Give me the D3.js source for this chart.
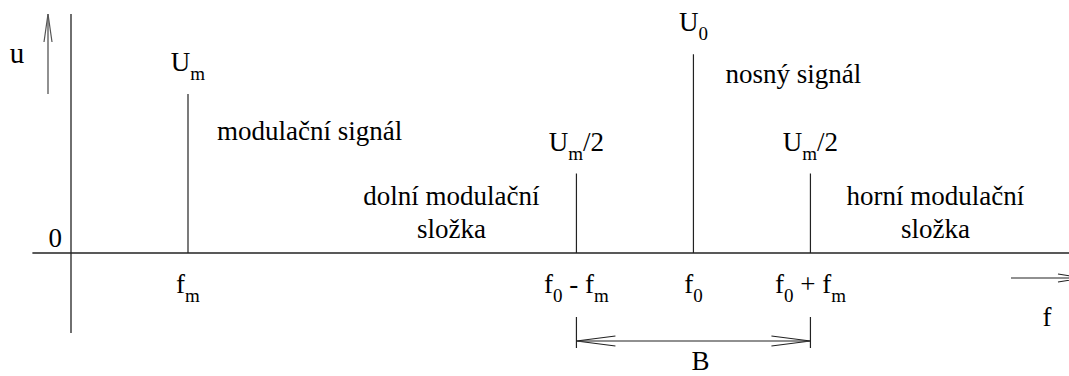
<!DOCTYPE html>
<html>
<head>
<meta charset="utf-8">
<script src="https://cdn.jsdelivr.net/npm/d3@7"></script>
<style>
  html, body { margin: 0; padding: 0; background: #fff; }
  .chart text { font-family: "Liberation Serif", serif; fill: #000; }
</style>
</head>
<body>
<svg class="chart"></svg>
<script>
// spectrum of an AM signal, frequencies in units of f_m
const fm = 1;
const f0 = 5.32;
const freqs = [fm, f0 - fm, f0, f0 + fm];
const amps = [1, 0.5, 1.25, 0.5];
const ampLabels = ["U_m", "U_m/2", "U_0", "U_m/2"];
const freqLabels = ["f_m", "f_0 - f_m", "f_0", "f_0 + f_m"];

const width = 1069;
const height = 376;
const fontSize = 27;
const subSize = 19;
const subShift = 9;

const svg = d3.select('.chart')
    .attr('width', width)
    .attr('height', height);

const x = d3.scaleLinear().domain([0, 8.53]).range([71, 1069]);
const y = d3.scaleLinear().domain([0, 1]).range([253, 94]);

const ink = '#222';

// writes "a_b" style strings, the char after _ becomes a subscript
function richText(sel, str) {
    const parts = str.split(/_(\w)/);
    let shift = 0;
    parts.forEach((p, i) => {
        if (p === '') return;
        const sub = i % 2 === 1;
        const target = sub ? subShift : 0;
        sel.append('tspan')
            .attr('font-size', sub ? subSize : fontSize)
            .attr('dy', target - shift)
            .text(p);
        shift = target;
    });
}

function arrowHead(g, tx, ty, dx, dy, len, half, color) {
    // dx,dy is the unit direction the arrow points
    const bx = tx - dx * len, by = ty - dy * len;
    const px = -dy * half, py = dx * half;
    g.append('path')
        .attr('d', `M${bx + px},${by + py}L${tx},${ty}L${bx - px},${by - py}`)
        .attr('fill', 'none')
        .attr('stroke', color)
        .attr('stroke-width', 1.2);
}

// axes
svg.append('line')
    .attr('x1', x(-0.33)).attr('x2', x.range()[1])
    .attr('y1', y(0)).attr('y2', y(0))
    .attr('stroke', ink).attr('stroke-width', 1.3);

svg.append('line')
    .attr('x1', x(0)).attr('x2', x(0))
    .attr('y1', 14).attr('y2', 333)
    .attr('stroke', ink).attr('stroke-width', 1.3);

svg.append('text')
    .attr('x', x(0) - 9)
    .attr('y', y(0) - 6)
    .attr('text-anchor', 'end')
    .attr('font-size', fontSize)
    .text('0');

// u arrow
svg.append('line')
    .attr('x1', 48).attr('x2', 48)
    .attr('y1', 94).attr('y2', 14)
    .attr('stroke', '#555').attr('stroke-width', 1.3);
arrowHead(svg, 48, 14, 0, -1, 28, 4, '#555');
svg.append('text')
    .attr('x', 17).attr('y', 63)
    .attr('text-anchor', 'middle')
    .attr('font-size', 29)
    .text('u');

// f arrow
svg.append('line')
    .attr('x1', 1011).attr('x2', 1083)
    .attr('y1', 278).attr('y2', 278)
    .attr('stroke', ink).attr('stroke-width', 1.2);
arrowHead(svg, 1083, 278, 1, 0, 25, 4, ink);
svg.append('text')
    .attr('x', 1047).attr('y', 326)
    .attr('text-anchor', 'middle')
    .attr('font-size', fontSize)
    .text('f');

// spectral lines
const comps = freqs.map((f, i) => ({ f, a: amps[i], label: ampLabels[i], tick: freqLabels[i] }));

const line = svg.selectAll('.comp')
    .data(comps)
    .enter().append('g')
    .attr('class', 'comp');

line.append('line')
    .attr('x1', d => x(d.f)).attr('x2', d => x(d.f))
    .attr('y1', y(0)).attr('y2', d => y(d.a))
    .attr('stroke', ink).attr('stroke-width', 1.2);

line.append('text')
    .attr('x', d => x(d.f))
    .attr('y', d => y(d.a) - 23)
    .attr('text-anchor', 'middle')
    .attr('font-size', fontSize)
    .each(function(d) { richText(d3.select(this), d.label); });

line.append('text')
    .attr('x', d => x(d.f))
    .attr('y', y(0) + 40)
    .attr('text-anchor', 'middle')
    .attr('font-size', fontSize)
    .each(function(d) { richText(d3.select(this), d.tick); });

// bandwidth B
const bx1 = x(f0 - fm), bx2 = x(f0 + fm);
[bx1, bx2].forEach(bx => {
    svg.append('line')
        .attr('x1', bx).attr('x2', bx)
        .attr('y1', 317).attr('y2', 348)
        .attr('stroke', ink).attr('stroke-width', 1.2);
});
svg.append('line')
    .attr('x1', bx1).attr('x2', bx2)
    .attr('y1', 341).attr('y2', 341)
    .attr('stroke', ink).attr('stroke-width', 1.2);
arrowHead(svg, bx1, 341, -1, 0, 39, 5, ink);
arrowHead(svg, bx2, 341, 1, 0, 39, 5, ink);
svg.append('text')
    .attr('x', (bx1 + bx2) / 2 + 7).attr('y', 370)
    .attr('text-anchor', 'middle')
    .attr('font-size', fontSize)
    .text('B');

// descriptions
const notes = [
    { lines: ['modulační signál'], x: x(fm) + 29, y: 140, anchor: 'start' },
    { lines: ['nosný signál'], x: x(f0) + 32, y: 83, anchor: 'start' },
    { lines: ['dolní modulační', 'složka'], x: x(f0 - fm) - 125, y: 205, anchor: 'middle' },
    { lines: ['horní modulační', 'složka'], x: x(f0 + fm) + 125, y: 205, anchor: 'middle' }
];

notes.forEach(n => {
    n.lines.forEach((t, i) => {
        svg.append('text')
            .attr('x', n.x)
            .attr('y', n.y + i * 33)
            .attr('text-anchor', n.anchor)
            .attr('font-size', fontSize)
            .text(t);
    });
});

svg.selectAll('text')
    .style('font-family', '"Liberation Serif", monospace');
</script>
</body>
</html>
